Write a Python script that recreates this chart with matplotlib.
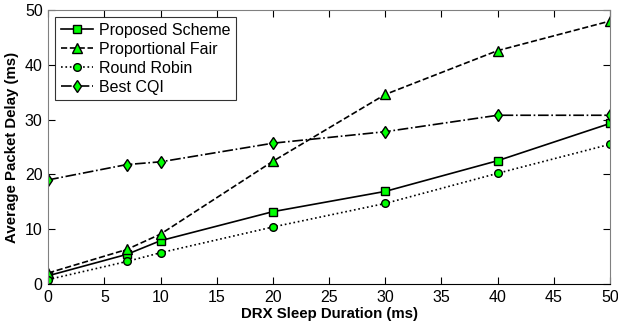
import matplotlib
matplotlib.use("Agg")
import matplotlib.pyplot as plt

# -------------------------------
# DATA
# -------------------------------
drx_sleep = [0, 7, 10, 20, 30, 40, 50]
proposed = [1.5, 5.4, 7.9, 13.2, 16.9, 22.5, 29.3]
prop_fair = [2.0, 6.3, 9.1, 22.4, 34.6, 42.6, 48.0]
round_robin = [0.8, 4.1, 5.7, 10.4, 14.7, 20.2, 25.5]
best_cqi = [19.0, 21.8, 22.3, 25.7, 27.8, 30.8, 30.8]

plt.rcParams['font.family'] = ['Liberation Sans', 'DejaVu Sans']

fig = plt.figure(figsize=(6.18, 3.26), dpi=100)
ax = fig.add_axes([0.078, 0.129, 0.909, 0.840])

green = '#00ff00'
ax.plot(drx_sleep, proposed, 's-', color='k', mfc=green, mec='k', ms=6, lw=1.2, label='Proposed Scheme')
ax.plot(drx_sleep, prop_fair, '^--', color='k', mfc=green, mec='k', ms=6.5, lw=1.2, label='Proportional Fair')
ax.plot(drx_sleep, round_robin, 'o:', color='k', mfc=green, mec='k', ms=5.5, lw=1.2, label='Round Robin')
ax.plot(drx_sleep, best_cqi, 'd-.', color='k', mfc=green, mec='k', ms=6.5, lw=1.2, label='Best CQI')

ax.set_xlim(0, 50)
ax.set_ylim(0, 50)
ax.set_xticks(range(0, 51, 5))
ax.set_yticks(range(0, 51, 10))
ax.tick_params(direction='in', top=True, right=True, labelsize=11.5, length=5, pad=4)
for side in ['left', 'top', 'right']:
    ax.spines[side].set_color('#808080')
ax.spines['bottom'].set_color('k')

ax.set_xlabel('DRX Sleep Duration (ms)', fontsize=10.8, fontweight='bold', labelpad=2)
ax.set_ylabel('Average Packet Delay (ms)', fontsize=10.8, fontweight='bold', labelpad=4)

leg = ax.legend(loc='upper left', fontsize=11.5, frameon=True, fancybox=False,
                edgecolor='k', handlelength=2.0, handletextpad=0.35,
                borderaxespad=0.45, labelspacing=0.25, borderpad=0.35)
leg.get_frame().set_linewidth(0.8)

fig.savefig('out.png', dpi=100)
